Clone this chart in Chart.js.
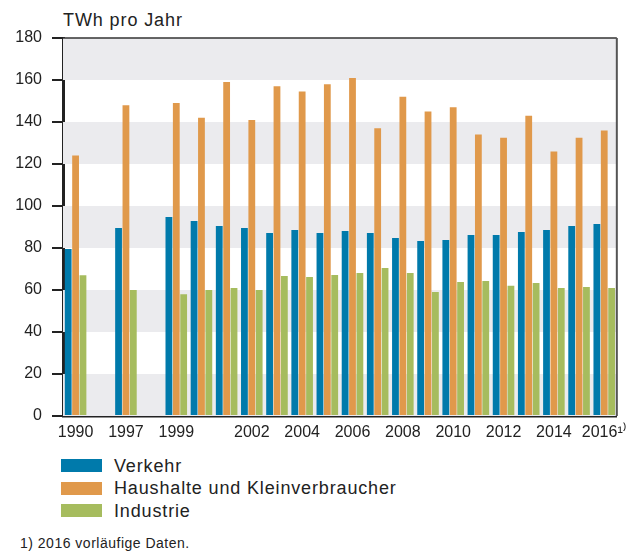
<!DOCTYPE html>
<html lang="de">
<head>
<meta charset="utf-8">
<title>Endenergieverbrauch</title>
<script src="https://cdn.jsdelivr.net/npm/chart.js@4.4.1/dist/chart.umd.min.js"></script>
<style>
  body { margin: 0; background: #fff; }
  #wrap { position: relative; width: 634px; height: 551px; font-family: "Liberation Sans", Arial, sans-serif; color: #222; }
  #chart { position: absolute; left: 0; top: 0; }
  #unit { position: absolute; left: 63px; top: 10px; font-size: 18px; line-height: 21px; letter-spacing: 0.9px; }
  .row { position: absolute; left: 61px; height: 23px; font-size: 18px; line-height: 23px; letter-spacing: 0.85px; }
  .row .box { position: absolute; left: 0; top: 4.5px; width: 41px; height: 13px; }
  .row .txt { position: absolute; left: 53px; top: 0; white-space: nowrap; }
  #note { position: absolute; left: 20px; top: 535px; font-size: 14px; line-height: 16px; letter-spacing: 0.5px; }
</style>
</head>
<body>
<div id="wrap">
  <div id="unit">TWh pro Jahr</div>
  <canvas id="chart" width="634" height="450"></canvas>
  <div id="legend"></div>
  <div id="note">1) 2016 vorläufige Daten.</div>
</div>
<script>
//Data
const years = ["1990", "", "1997", "", "1999", "2000", "2001", "2002", "2003", "2004", "2005",
  "2006", "2007", "2008", "2009", "2010", "2011", "2012", "2013", "2014", "2015", "2016"];
const tickLabels = ["1990", "", "1997", "", "1999", "", "", "2002", "", "2004", "",
  "2006", "", "2008", "", "2010", "", "2012", "", "2014", "", "2016\u00B9\u207E"];
const verkehr = [79.5, null, 89.5, null, 94.8, 92.9, 90.5, 89.5, 87.1, 88.6, 87.1,
  88.1, 87.1, 84.8, 83.3, 83.8, 86.2, 86.2, 87.6, 88.6, 90.5, 91.4];
const haushalte = [124, null, 148, null, 149, 142, 159, 141, 157, 154.5, 158,
  161, 137, 152, 145, 147, 134, 132.5, 143, 126, 132.5, 136];
const industrie = [67, null, 60, null, 58, 60, 61, 60, 66.7, 66.2, 67.1,
  68.1, 70.5, 68.1, 59, 63.8, 64.3, 62, 63.3, 61, 61.4, 61];
const seriesNames = ["Verkehr", "Haushalte und Kleinverbraucher", "Industrie"];
const yTicks = [0, 20, 40, 60, 80, 100, 120, 140, 160, 180];

const colors = ["#007aab", "#e0994b", "#a6bc5e"];
const textColor = "#222";
const fontFamily = '"Liberation Sans", Arial, sans-serif';

//grey / white stripes behind the bars + frame top and right
const bandsPlugin = {
  id: "bands",
  beforeDatasetsDraw(chart) {
    const { ctx, chartArea, scales } = chart;
    const y = scales.y;
    ctx.save();
    for (let i = 0; i < yTicks.length - 1; i++) {
      if (i % 2 !== 0) continue;
      const top = y.getPixelForValue(yTicks[i + 1]);
      const bottom = y.getPixelForValue(yTicks[i]);
      ctx.fillStyle = "#ebebee";
      ctx.fillRect(chartArea.left, top, chartArea.right - chartArea.left, bottom - top);
    }
    ctx.restore();
  },
  afterDraw(chart) {
    const { ctx, chartArea } = chart;
    ctx.save();
    ctx.strokeStyle = "#333";
    ctx.lineWidth = 1.5;
    ctx.beginPath();
    ctx.moveTo(chartArea.left, chartArea.top);
    ctx.lineTo(chartArea.right, chartArea.top);
    ctx.stroke();
    ctx.strokeStyle = "#555";
    ctx.lineWidth = 2;
    ctx.beginPath();
    ctx.moveTo(chartArea.right, chartArea.top);
    ctx.lineTo(chartArea.right, chartArea.bottom);
    ctx.stroke();
    ctx.restore();
  }
};

//Chart
const chart = new Chart(document.getElementById("chart"), {
  type: "bar",
  data: {
    labels: years,
    datasets: [
      { label: seriesNames[0], data: verkehr, backgroundColor: colors[0] },
      { label: seriesNames[1], data: haushalte, backgroundColor: colors[1] },
      { label: seriesNames[2], data: industrie, backgroundColor: colors[2] }
    ]
  },
  options: {
    responsive: false,
    animation: false,
    categoryPercentage: 0.88,
    barPercentage: 0.92,
    layout: { padding: { left: 0, top: 38, right: 13, bottom: 0 } },
    plugins: {
      legend: { display: false },
      tooltip: { enabled: false }
    },
    scales: {
      x: {
        grid: { display: false, drawTicks: false },
        border: { display: true, color: "#222", width: 2.5 },
        ticks: {
          autoSkip: false,
          maxRotation: 0,
          padding: 7,
          color: textColor,
          font: { family: fontFamily, size: 16 },
          callback: (value, index) => tickLabels[index]
        },
        afterFit: (scale) => { scale.height = 450 - 416; }
      },
      y: {
        min: 0,
        max: 180,
        afterBuildTicks: (scale) => { scale.ticks = yTicks.map((v) => ({ value: v })); },
        grid: { drawOnChartArea: false, drawTicks: true, tickLength: 11, color: "#222", lineWidth: 2 },
        border: { display: true, color: "#222", width: 3 },
        ticks: {
          padding: 10,
          color: textColor,
          font: { family: fontFamily, size: 16 }
        },
        afterFit: (scale) => { scale.width = 63; }
      }
    }
  },
  plugins: [bandsPlugin]
});

//HTML legend
const legend = document.getElementById("legend");
seriesNames.forEach((name, i) => {
  const row = document.createElement("div");
  row.className = "row";
  row.style.top = (454.5 + i * 22.7) + "px";
  row.innerHTML = `<span class="box" style="background:${colors[i]}"></span><span class="txt">${name}</span>`;
  legend.appendChild(row);
});
</script>
</body>
</html>
